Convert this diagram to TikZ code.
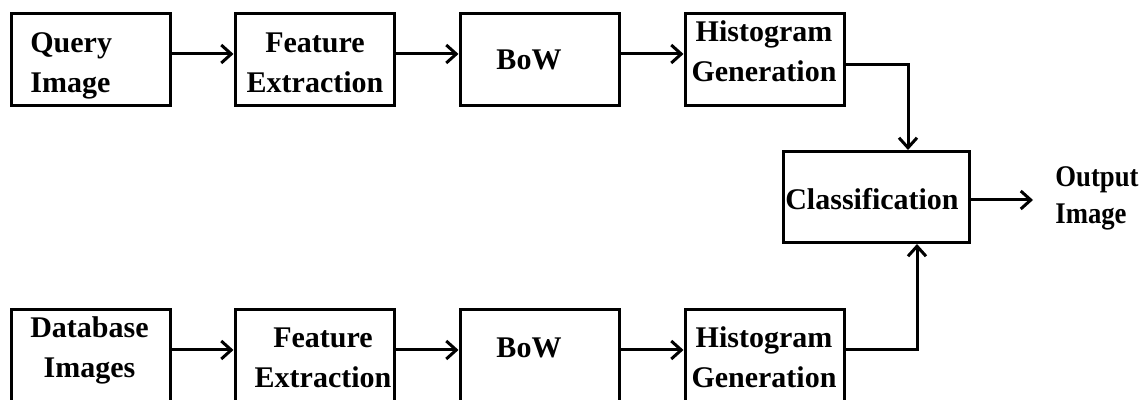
\documentclass[tikz,border=0pt]{standalone}
\usepackage{fontspec}
\setmainfont{Liberation Serif}
\usetikzlibrary{arrows.meta}
\begin{document}
\begin{tikzpicture}[x=0.5pt,y=-0.5pt,
  box/.style={draw, line width=1.5pt, inner sep=0pt,
    minimum width=79.5pt, minimum height=46pt},
  cbox/.style={box, minimum width=93pt, minimum height=45.5pt},
  lbl/.style={font=\fontsize{15}{20}\selectfont\bfseries, align=center,
    anchor=base, inner sep=0pt},
  arr/.style={line width=1.5pt,
    -{Straight Barb[length=5pt,width=9pt]}},
]
\useasboundingbox (0,0) rectangle (1142,400);

% query pipeline (top row)
\node[box] (q1) at (91,59.5) {};
\node[box] (q2) at (314.5,59.5) {};
\node[box] (q3) at (539.5,59.5) {};
\node[box] (q4) at (764.5,59.5) {};

% database pipeline (bottom row)
\node[box] (d1) at (91,355.5) {};
\node[box] (d2) at (314.5,355.5) {};
\node[box] (d3) at (539.5,355.5) {};
\node[box] (d4) at (764.5,355.5) {};

% classifier
\node[cbox] (cls) at (876.5,197) {};

% labels
\node[lbl, align=left, anchor=base west] (q1t) at (30,93) {Query\\Image};
\node[lbl] (q2t) at (315,93) {Feature\\Extraction};
\node[lbl] (q3t) at (529,70) {BoW};
\node[lbl] (q4t) at (764,82) {Histogram\\Generation};

\node[lbl] (d1t) at (89.5,378) {Database\\Images};
\node[lbl] (d2t) at (323,388) {Feature\\Extraction};
\node[lbl] (d3t) at (529,358) {BoW};
\node[lbl] (d4t) at (764,388) {Histogram\\Generation};

\node[lbl] (clst) at (872,210) {Classification};
\node[lbl, align=left, anchor=base west,
  font=\fontsize{15}{18.5}\selectfont\bfseries] (out) at (1055,224)
  {\scalebox{0.89}[1]{Output}\\\scalebox{0.89}[1]{Image}};

% connectors
\foreach \a/\b in {q1/q2, q2/q3, q3/q4, d1/d2, d2/d3, d3/d4}
  \draw[arr] ([yshift=2.75pt]\a.east) -- ([yshift=2.75pt]\b.west);

\draw[arr] ([yshift=-2.75pt]q4.east) -| ([xshift=15.75pt]cls.north);
\draw[arr] ([yshift=2.75pt]d4.east) -| ([xshift=20.25pt]cls.south);

\coordinate (outend) at (1033,200);
\draw[arr] ([yshift=-1.5pt]cls.east) -- (outend);
\end{tikzpicture}
\end{document}
